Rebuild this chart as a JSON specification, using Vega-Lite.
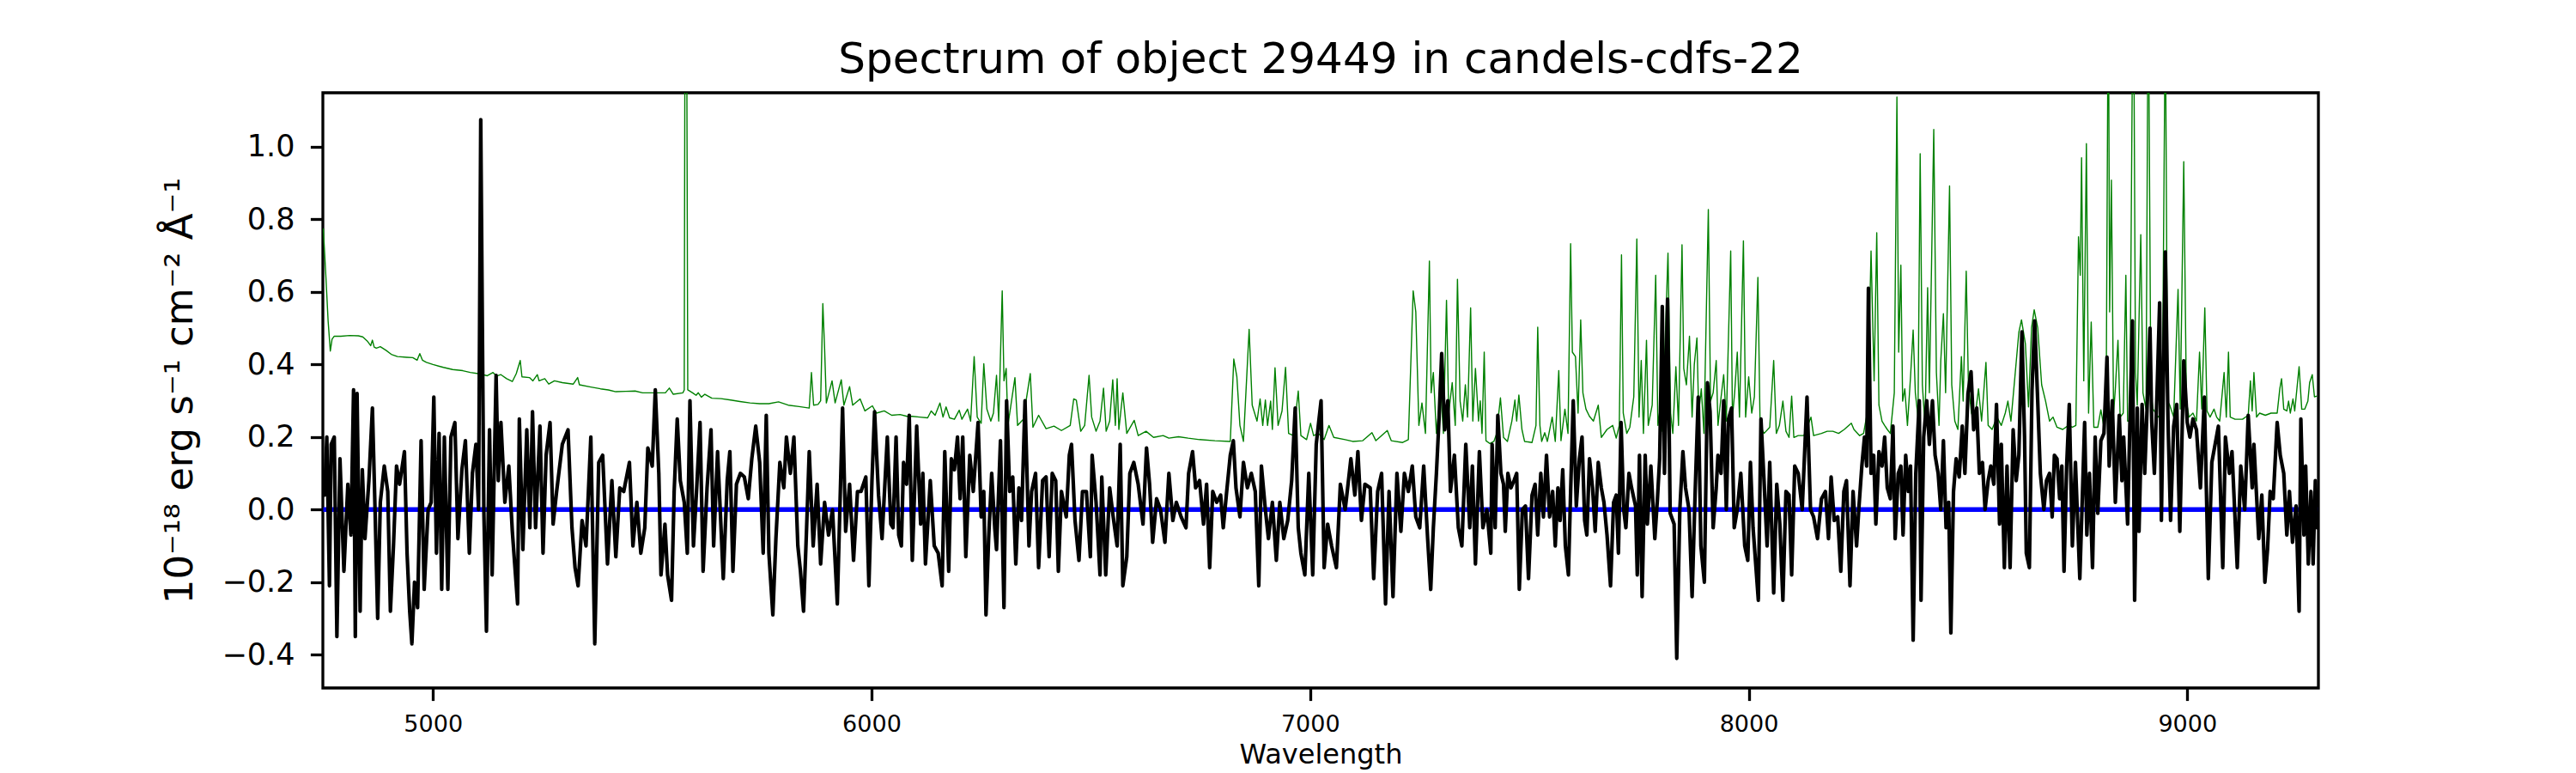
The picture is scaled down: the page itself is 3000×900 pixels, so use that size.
{
  "$schema": "https://vega.github.io/schema/vega-lite/v6.json",
  "width": 2324,
  "height": 693,
  "autosize": "none",
  "padding": {"left": 376, "top": 108, "right": 300, "bottom": 99},
  "background": "white",
  "title": {
    "text": "Spectrum of object 29449 in candels-cdfs-22",
    "font": "DejaVu Sans",
    "fontSize": 50,
    "fontWeight": "normal",
    "color": "#000000",
    "offset": 13
  },
  "config": {
    "font": "DejaVu Sans",
    "view": {"stroke": "#000000", "strokeWidth": 3.3},
    "axis": {
      "domain": false,
      "grid": false,
      "tickColor": "#000000",
      "tickWidth": 3.3,
      "tickSize": 14.6,
      "labelColor": "#000000",
      "titleColor": "#000000",
      "titleFontWeight": "normal",
      "labelFont": "DejaVu Sans",
      "titleFont": "DejaVu Sans",
      "labelFlush": false,
      "labelOverlap": false
    }
  },
  "datasets": {
    "flux": [
      {"w":4750,"f":0.04},{"w":4753,"f":0.04},{"w":4758,"f":0.20},{"w":4764,"f":-0.21},{"w":4768,"f":0.18},{"w":4775,"f":0.20},{"w":4781,"f":-0.35},{"w":4788,"f":0.14},{"w":4797,"f":-0.17},{"w":4806,"f":0.07},
      {"w":4813,"f":-0.07},{"w":4819,"f":0.33},{"w":4823,"f":-0.35},{"w":4827,"f":0.32},{"w":4834,"f":-0.28},{"w":4839,"f":0.11},{"w":4845,"f":-0.08},{"w":4854,"f":0.08},{"w":4862,"f":0.28},{"w":4868,"f":0.0},
      {"w":4874,"f":-0.30},{"w":4880,"f":0.02},{"w":4889,"f":0.12},{"w":4897,"f":0.05},{"w":4903,"f":-0.28},{"w":4910,"f":-0.10},{"w":4917,"f":0.12},{"w":4924,"f":0.07},{"w":4935,"f":0.16},{"w":4941,"f":-0.12},
      {"w":4947,"f":-0.28},{"w":4952,"f":-0.37},{"w":4958,"f":-0.20},{"w":4965,"f":-0.27},{"w":4973,"f":0.19},{"w":4980,"f":-0.22},{"w":4989,"f":0.0},{"w":4996,"f":0.02},{"w":5002,"f":0.31},{"w":5008,"f":-0.12},
      {"w":5014,"f":0.21},{"w":5020,"f":-0.22},{"w":5026,"f":0.20},{"w":5034,"f":-0.22},{"w":5041,"f":0.20},{"w":5050,"f":0.24},{"w":5057,"f":-0.08},{"w":5066,"f":0.11},{"w":5074,"f":0.19},{"w":5083,"f":-0.12},
      {"w":5090,"f":0.10},{"w":5098,"f":0.18},{"w":5104,"f":0.0},{"w":5109,"f":1.075},{"w":5116,"f":0.0},{"w":5122,"f":-0.335},{"w":5129,"f":0.22},{"w":5135,"f":-0.18},{"w":5144,"f":0.37},{"w":5149,"f":0.08},
      {"w":5155,"f":0.24},{"w":5164,"f":0.02},{"w":5173,"f":0.12},{"w":5181,"f":-0.06},{"w":5193,"f":-0.26},{"w":5197,"f":0.25},{"w":5205,"f":-0.11},{"w":5214,"f":0.22},{"w":5221,"f":-0.05},{"w":5227,"f":0.27},
      {"w":5234,"f":-0.05},{"w":5244,"f":0.23},{"w":5251,"f":-0.12},{"w":5258,"f":0.15},{"w":5267,"f":0.24},{"w":5274,"f":-0.04},{"w":5282,"f":0.05},{"w":5295,"f":0.18},{"w":5308,"f":0.22},{"w":5317,"f":-0.05},
      {"w":5324,"f":-0.16},{"w":5331,"f":-0.21},{"w":5340,"f":-0.03},{"w":5349,"f":-0.10},{"w":5360,"f":0.20},{"w":5369,"f":-0.37},{"w":5378,"f":0.13},{"w":5387,"f":0.15},{"w":5398,"f":-0.15},{"w":5408,"f":0.08},
      {"w":5417,"f":-0.13},{"w":5426,"f":0.06},{"w":5435,"f":0.05},{"w":5448,"f":0.13},{"w":5456,"f":-0.10},{"w":5465,"f":0.02},{"w":5474,"f":-0.12},{"w":5483,"f":-0.05},{"w":5490,"f":0.17},{"w":5500,"f":0.12},
      {"w":5507,"f":0.33},{"w":5515,"f":0.10},{"w":5520,"f":-0.18},{"w":5529,"f":-0.04},{"w":5535,"f":-0.18},{"w":5544,"f":-0.25},{"w":5550,"f":0.05},{"w":5557,"f":0.25},{"w":5564,"f":0.08},{"w":5573,"f":0.02},
      {"w":5580,"f":-0.12},{"w":5586,"f":0.30},{"w":5594,"f":-0.10},{"w":5601,"f":0.05},{"w":5609,"f":0.24},{"w":5616,"f":-0.17},{"w":5625,"f":0.06},{"w":5634,"f":0.22},{"w":5640,"f":-0.10},{"w":5649,"f":0.16},
      {"w":5655,"f":0.0},{"w":5662,"f":-0.19},{"w":5671,"f":0.08},{"w":5677,"f":0.16},{"w":5684,"f":-0.17},{"w":5692,"f":0.07},{"w":5701,"f":0.10},{"w":5710,"f":0.09},{"w":5719,"f":0.03},{"w":5727,"f":0.14},
      {"w":5736,"f":0.23},{"w":5745,"f":0.13},{"w":5753,"f":-0.12},{"w":5760,"f":0.26},{"w":5766,"f":-0.12},{"w":5775,"f":-0.29},{"w":5782,"f":-0.08},{"w":5791,"f":0.13},{"w":5800,"f":0.06},{"w":5806,"f":0.20},
      {"w":5815,"f":0.10},{"w":5823,"f":0.20},{"w":5832,"f":-0.10},{"w":5838,"f":-0.17},{"w":5845,"f":-0.28},{"w":5852,"f":-0.05},{"w":5858,"f":0.16},{"w":5867,"f":-0.10},{"w":5876,"f":0.07},{"w":5884,"f":-0.15},
      {"w":5893,"f":0.02},{"w":5902,"f":-0.07},{"w":5911,"f":0.0},{"w":5922,"f":-0.26},{"w":5934,"f":0.28},{"w":5941,"f":-0.06},{"w":5950,"f":0.07},{"w":5959,"f":-0.14},{"w":5968,"f":0.05},{"w":5976,"f":0.05},
      {"w":5987,"f":0.09},{"w":5994,"f":-0.21},{"w":6001,"f":0.08},{"w":6007,"f":0.27},{"w":6016,"f":0.04},{"w":6024,"f":-0.08},{"w":6036,"f":0.20},{"w":6044,"f":-0.04},
      {"w":6049,"f":-0.05},{"w":6056,"f":0.20},{"w":6062,"f":-0.07},{"w":6068,"f":-0.10},{"w":6073,"f":0.13},{"w":6080,"f":0.07},{"w":6086,"f":0.26},{"w":6093,"f":-0.14},{"w":6103,"f":0.23},{"w":6112,"f":-0.04},
      {"w":6117,"f":0.10},{"w":6123,"f":-0.15},{"w":6134,"f":0.08},{"w":6143,"f":-0.10},{"w":6152,"f":-0.12},{"w":6161,"f":-0.21},{"w":6167,"f":0.16},{"w":6176,"f":-0.17},{"w":6182,"f":0.14},{"w":6189,"f":0.11},
      {"w":6196,"f":0.20},{"w":6202,"f":0.03},{"w":6208,"f":0.20},{"w":6215,"f":-0.13},{"w":6224,"f":0.15},{"w":6232,"f":0.05},{"w":6243,"f":0.24},{"w":6250,"f":-0.02},{"w":6256,"f":0.05},{"w":6261,"f":-0.29},
      {"w":6267,"f":-0.08},{"w":6274,"f":0.10},{"w":6281,"f":-0.05},{"w":6285,"f":-0.11},{"w":6294,"f":0.19},{"w":6302,"f":-0.27},{"w":6308,"f":0.30},{"w":6315,"f":0.05},{"w":6322,"f":0.09},{"w":6329,"f":-0.15},
      {"w":6336,"f":0.06},{"w":6342,"f":-0.03},{"w":6350,"f":0.30},{"w":6359,"f":-0.10},{"w":6365,"f":0.05},{"w":6374,"f":0.10},{"w":6381,"f":-0.16},{"w":6390,"f":0.08},{"w":6398,"f":0.09},{"w":6405,"f":-0.13},
      {"w":6412,"f":0.10},{"w":6420,"f":0.08},{"w":6426,"f":-0.17},{"w":6433,"f":0.05},{"w":6444,"f":-0.02},{"w":6451,"f":0.15},{"w":6456,"f":0.18},{"w":6464,"f":-0.03},{"w":6473,"f":-0.14},{"w":6481,"f":0.05},
      {"w":6490,"f":0.05},{"w":6499,"f":-0.13},{"w":6503,"f":0.15},{"w":6512,"f":0.02},{"w":6521,"f":-0.18},{"w":6525,"f":0.09},{"w":6534,"f":-0.18},{"w":6543,"f":0.06},{"w":6551,"f":-0.02},{"w":6560,"f":-0.10},
      {"w":6567,"f":0.18},{"w":6573,"f":-0.21},{"w":6582,"f":-0.13},{"w":6589,"f":0.10},{"w":6598,"f":0.13},{"w":6608,"f":0.07},{"w":6619,"f":-0.04},{"w":6627,"f":0.17},{"w":6634,"f":0.07},{"w":6641,"f":-0.09},
      {"w":6650,"f":0.03},{"w":6659,"f":0.0},{"w":6669,"f":-0.09},{"w":6678,"f":0.10},{"w":6687,"f":-0.03},{"w":6695,"f":0.02},{"w":6706,"f":-0.02},{"w":6717,"f":-0.05},{"w":6723,"f":0.10},{"w":6732,"f":0.16},
      {"w":6739,"f":0.06},{"w":6748,"f":0.08},{"w":6757,"f":-0.04},{"w":6764,"f":0.07},{"w":6771,"f":-0.16},{"w":6778,"f":0.05},{"w":6787,"f":0.02},{"w":6796,"f":0.04},{"w":6802,"f":-0.05},{"w":6809,"f":0.04},
      {"w":6818,"f":0.15},{"w":6825,"f":0.19},{"w":6831,"f":0.06},{"w":6840,"f":-0.02},{"w":6848,"f":0.13},{"w":6857,"f":0.06},{"w":6866,"f":0.10},{"w":6875,"f":0.05},{"w":6883,"f":-0.21},{"w":6889,"f":0.12},
      {"w":6898,"f":0.0},{"w":6905,"f":-0.08},{"w":6914,"f":0.02},{"w":6923,"f":-0.14},{"w":6931,"f":0.02},{"w":6940,"f":-0.08},{"w":6949,"f":-0.03},{"w":6958,"f":0.08},{"w":6966,"f":0.28},{"w":6973,"f":-0.05},
      {"w":6979,"f":-0.12},{"w":6988,"f":-0.18},{"w":6997,"f":0.10},{"w":7006,"f":-0.18},{"w":7014,"f":0.18},{"w":7025,"f":0.30},{"w":7032,"f":-0.16},{"w":7040,"f":-0.04},{"w":7049,"f":-0.10},{"w":7060,"f":-0.16},
      {"w":7069,"f":0.07},{"w":7080,"f":0.0},{"w":7093,"f":0.14},{"w":7102,"f":0.04},{"w":7109,"f":0.16},{"w":7117,"f":-0.03},{"w":7125,"f":0.07},{"w":7137,"f":0.06},{"w":7145,"f":-0.19},{"w":7154,"f":0.05},
      {"w":7163,"f":0.10},{"w":7172,"f":-0.26},{"w":7180,"f":0.05},{"w":7189,"f":-0.24},{"w":7198,"f":0.10},{"w":7207,"f":-0.06},{"w":7215,"f":0.10},{"w":7224,"f":0.05},{"w":7233,"f":0.12},{"w":7241,"f":-0.02},
      {"w":7250,"f":-0.05},{"w":7259,"f":0.12},{"w":7268,"f":-0.08},{"w":7275,"f":-0.22},{"w":7281,"f":-0.05},{"w":7288,"f":0.10},{"w":7294,"f":0.25},{"w":7300,"f":0.43},{"w":7307,"f":0.22},{"w":7314,"f":0.30},
      {"w":7320,"f":0.05},{"w":7329,"f":0.15},{"w":7338,"f":-0.05},{"w":7346,"f":-0.10},{"w":7355,"f":0.18},{"w":7364,"f":-0.05},{"w":7370,"f":0.12},{"w":7377,"f":-0.15},{"w":7386,"f":0.16},{"w":7394,"f":-0.05},
      {"w":7403,"f":0.0},{"w":7412,"f":-0.12},
      {"w":7415,"f":0.18},{"w":7422,"f":-0.05},{"w":7428,"f":0.26},{"w":7435,"f":0.10},{"w":7441,"f":0.07},{"w":7445,"f":-0.06},{"w":7451,"f":0.10},{"w":7458,"f":0.06},{"w":7465,"f":0.08},{"w":7471,"f":0.10},
      {"w":7477,"f":-0.22},{"w":7484,"f":0.0},{"w":7491,"f":0.01},{"w":7498,"f":-0.19},{"w":7506,"f":0.04},{"w":7513,"f":0.07},{"w":7519,"f":-0.07},{"w":7526,"f":0.10},{"w":7532,"f":-0.02},{"w":7539,"f":0.15},
      {"w":7546,"f":-0.02},{"w":7553,"f":0.05},{"w":7559,"f":-0.10},{"w":7565,"f":0.06},{"w":7570,"f":-0.03},{"w":7576,"f":0.11},{"w":7582,"f":-0.10},{"w":7589,"f":-0.18},{"w":7594,"f":0.05},{"w":7600,"f":0.30},
      {"w":7607,"f":0.01},{"w":7614,"f":0.14},{"w":7620,"f":0.20},{"w":7626,"f":-0.03},{"w":7631,"f":-0.07},{"w":7637,"f":0.14},{"w":7644,"f":0.06},{"w":7650,"f":-0.06},{"w":7657,"f":0.13},{"w":7664,"f":0.06},
      {"w":7670,"f":0.02},{"w":7677,"f":-0.07},{"w":7685,"f":-0.21},{"w":7692,"f":0.02},{"w":7698,"f":0.04},{"w":7703,"f":-0.12},{"w":7709,"f":0.24},{"w":7715,"f":0.0},{"w":7720,"f":-0.05},{"w":7727,"f":0.10},
      {"w":7733,"f":0.06},{"w":7742,"f":0.01},{"w":7746,"f":-0.18},{"w":7751,"f":0.15},{"w":7757,"f":-0.24},{"w":7764,"f":0.15},{"w":7769,"f":-0.04},{"w":7777,"f":0.12},{"w":7786,"f":-0.08},{"w":7792,"f":0.03},
      {"w":7797,"f":0.14},{"w":7803,"f":0.56},{"w":7808,"f":0.10},{"w":7815,"f":0.58},{"w":7821,"f":-0.01},{"w":7830,"f":-0.04},{"w":7836,"f":-0.41},{"w":7843,"f":0.0},{"w":7850,"f":0.16},{"w":7856,"f":0.06},
      {"w":7864,"f":0.0},{"w":7871,"f":-0.24},{"w":7878,"f":0.05},{"w":7885,"f":0.31},{"w":7891,"f":-0.10},{"w":7899,"f":-0.20},{"w":7906,"f":0.35},{"w":7912,"f":0.27},{"w":7919,"f":-0.05},{"w":7926,"f":0.06},
      {"w":7930,"f":0.15},{"w":7937,"f":0.10},{"w":7943,"f":0.30},{"w":7949,"f":0.0},{"w":7954,"f":0.25},{"w":7961,"f":0.28},{"w":7967,"f":-0.05},{"w":7974,"f":0.0},{"w":7982,"f":0.10},{"w":7991,"f":-0.10},
      {"w":7998,"f":-0.14},{"w":8004,"f":0.13},{"w":8010,"f":-0.05},{"w":8022,"f":-0.25},{"w":8028,"f":0.25},{"w":8035,"f":0.08},{"w":8042,"f":-0.10},{"w":8048,"f":0.13},{"w":8057,"f":-0.23},{"w":8064,"f":0.07},
      {"w":8071,"f":-0.04},{"w":8078,"f":-0.25},{"w":8085,"f":0.05},{"w":8092,"f":0.04},{"w":8098,"f":-0.18},{"w":8105,"f":0.12},{"w":8113,"f":0.10},{"w":8122,"f":0.0},{"w":8133,"f":0.31},{"w":8141,"f":0.0},
      {"w":8148,"f":-0.02},{"w":8157,"f":-0.08},{"w":8166,"f":0.03},{"w":8175,"f":0.05},{"w":8182,"f":-0.08},{"w":8188,"f":0.09},{"w":8195,"f":-0.03},{"w":8203,"f":-0.02},{"w":8210,"f":-0.17},{"w":8217,"f":0.05},
      {"w":8223,"f":0.08},{"w":8231,"f":-0.21},{"w":8238,"f":0.05},{"w":8246,"f":-0.10},{"w":8251,"f":0.0},{"w":8258,"f":0.12},{"w":8264,"f":0.20},{"w":8269,"f":0.12},{"w":8273,"f":0.61},{"w":8279,"f":0.10},
      {"w":8285,"f":0.15},{"w":8290,"f":-0.04},{"w":8297,"f":0.16},{"w":8304,"f":0.12},{"w":8310,"f":0.20},{"w":8316,"f":0.06},{"w":8323,"f":0.03},{"w":8329,"f":0.23},{"w":8334,"f":-0.08},{"w":8341,"f":0.10},
      {"w":8347,"f":0.12},{"w":8352,"f":-0.07},{"w":8358,"f":0.15},{"w":8364,"f":0.05},{"w":8369,"f":0.12},{"w":8375,"f":-0.36},{"w":8381,"f":0.10},{"w":8389,"f":0.30},{"w":8393,"f":-0.25},{"w":8399,"f":0.20},
      {"w":8406,"f":0.30},{"w":8412,"f":0.18},{"w":8419,"f":0.30},{"w":8425,"f":0.15},{"w":8432,"f":0.10},{"w":8438,"f":0.0},{"w":8444,"f":0.19},{"w":8450,"f":-0.05},{"w":8456,"f":0.02},{"w":8461,"f":-0.34},
      {"w":8467,"f":0.05},{"w":8473,"f":0.14},{"w":8480,"f":0.09},{"w":8487,"f":0.23},{"w":8493,"f":0.10},{"w":8500,"f":0.32},{"w":8507,"f":0.38},{"w":8513,"f":0.22},{"w":8520,"f":0.28},{"w":8526,"f":0.10},
      {"w":8533,"f":0.13},{"w":8539,"f":0.0},{"w":8546,"f":0.08},{"w":8552,"f":0.12},{"w":8559,"f":0.07},{"w":8565,"f":0.29},{"w":8572,"f":-0.04},{"w":8576,"f":0.18},{"w":8583,"f":-0.16},{"w":8589,"f":0.12},
      {"w":8596,"f":-0.16},{"w":8603,"f":0.22},{"w":8610,"f":0.08},{"w":8616,"f":0.15},{"w":8623,"f":0.49},{"w":8629,"f":0.20},{"w":8633,"f":-0.12},{"w":8640,"f":-0.16},{"w":8646,"f":0.33},{"w":8652,"f":0.52},
      {"w":8659,"f":0.30},{"w":8665,"f":0.10},{"w":8673,"f":0.0},{"w":8679,"f":0.08},{"w":8686,"f":0.10},{"w":8692,"f":-0.02},{"w":8697,"f":0.15},{"w":8703,"f":0.14},{"w":8709,"f":0.03},{"w":8714,"f":0.12},
      {"w":8719,"f":-0.17},{"w":8725,"f":0.12},{"w":8731,"f":0.29},{"w":8738,"f":-0.10},{"w":8745,"f":0.13},
      {"w":8755,"f":-0.19},{"w":8766,"f":0.24},{"w":8771,"f":-0.07},{"w":8777,"f":0.10},{"w":8784,"f":-0.16},{"w":8790,"f":0.20},{"w":8796,"f":-0.01},{"w":8803,"f":0.19},{"w":8810,"f":0.21},{"w":8817,"f":0.42},
      {"w":8822,"f":0.12},{"w":8829,"f":0.30},{"w":8836,"f":0.02},{"w":8845,"f":0.26},{"w":8851,"f":0.08},{"w":8855,"f":0.20},{"w":8864,"f":-0.04},{"w":8869,"f":0.23},{"w":8875,"f":0.52},{"w":8880,"f":-0.25},
      {"w":8886,"f":0.28},{"w":8890,"f":-0.06},{"w":8897,"f":0.29},{"w":8903,"f":0.10},{"w":8915,"f":0.50},{"w":8919,"f":0.24},{"w":8925,"f":0.10},{"w":8931,"f":0.32},{"w":8937,"f":0.57},{"w":8941,"f":-0.03},
      {"w":8950,"f":0.71},{"w":8956,"f":0.25},{"w":8962,"f":-0.03},{"w":8969,"f":0.23},{"w":8976,"f":0.29},{"w":8983,"f":-0.06},{"w":8992,"f":0.41},{"w":9000,"f":0.24},{"w":9006,"f":0.20},{"w":9013,"f":0.25},
      {"w":9021,"f":0.22},{"w":9030,"f":0.06},{"w":9039,"f":0.31},{"w":9048,"f":-0.19},{"w":9056,"f":0.13},{"w":9071,"f":0.23},{"w":9081,"f":-0.16},{"w":9087,"f":0.20},{"w":9096,"f":0.10},{"w":9102,"f":0.16},
      {"w":9114,"f":-0.16},{"w":9122,"f":0.12},{"w":9131,"f":0.0},{"w":9139,"f":0.26},{"w":9148,"f":0.06},{"w":9152,"f":0.18},{"w":9163,"f":-0.08},{"w":9170,"f":0.04},{"w":9177,"f":-0.20},{"w":9183,"f":-0.11},
      {"w":9189,"f":0.05},{"w":9196,"f":0.03},{"w":9205,"f":0.24},{"w":9212,"f":0.15},{"w":9220,"f":0.10},{"w":9227,"f":-0.07},{"w":9233,"f":0.05},{"w":9240,"f":-0.09},{"w":9248,"f":0.01},{"w":9255,"f":-0.28},
      {"w":9259,"f":0.25},{"w":9266,"f":-0.07},{"w":9270,"f":0.12},{"w":9276,"f":-0.15},{"w":9282,"f":0.05},{"w":9287,"f":-0.15},{"w":9292,"f":0.08},{"w":9296,"f":-0.05}
    ],
    "sky": [
      {"w":4750,"f":0.775},{"w":4756,"f":0.64},{"w":4761,"f":0.52},{"w":4766,"f":0.437},{"w":4770,"f":0.47},{"w":4775,"f":0.478},{"w":4790,"f":0.478},{"w":4810,"f":0.48},{"w":4830,"f":0.479},{"w":4840,"f":0.476},
      {"w":4850,"f":0.465},{"w":4858,"f":0.452},{"w":4862,"f":0.467},{"w":4866,"f":0.448},{"w":4871,"f":0.445},{"w":4880,"f":0.449},{"w":4893,"f":0.439},{"w":4905,"f":0.428},{"w":4919,"f":0.422},{"w":4940,"f":0.42},
      {"w":4954,"f":0.419},{"w":4964,"f":0.412},{"w":4970,"f":0.43},{"w":4976,"f":0.412},{"w":4985,"f":0.406},{"w":5000,"f":0.40},{"w":5024,"f":0.392},{"w":5045,"f":0.386},{"w":5068,"f":0.383},{"w":5085,"f":0.378},
      {"w":5103,"f":0.375},{"w":5124,"f":0.369},{"w":5137,"f":0.378},{"w":5145,"f":0.368},{"w":5155,"f":0.372},{"w":5168,"f":0.361},{"w":5181,"f":0.353},{"w":5190,"f":0.375},{"w":5199,"f":0.411},{"w":5203,"f":0.366},
      {"w":5220,"f":0.364},{"w":5228,"f":0.355},{"w":5238,"f":0.372},{"w":5242,"f":0.355},{"w":5255,"f":0.361},{"w":5264,"f":0.346},{"w":5277,"f":0.355},{"w":5295,"f":0.35},{"w":5320,"f":0.346},{"w":5330,"f":0.364},
      {"w":5334,"f":0.344},{"w":5360,"f":0.338},{"w":5382,"f":0.333},{"w":5400,"f":0.33},{"w":5417,"f":0.325},{"w":5440,"f":0.326},{"w":5461,"f":0.327},{"w":5478,"f":0.322},{"w":5505,"f":0.322},{"w":5530,"f":0.322},
      {"w":5539,"f":0.335},{"w":5548,"f":0.318},{"w":5570,"f":0.322},{"w":5573,"f":0.33},{"w":5575,"f":1.6},{"w":5578,"f":1.6},{"w":5581,"f":0.33},{"w":5592,"f":0.322},{"w":5600,"f":0.315},{"w":5605,"f":0.322},
      {"w":5612,"f":0.31},{"w":5620,"f":0.318},{"w":5636,"f":0.307},{"w":5657,"f":0.306},{"w":5679,"f":0.302},{"w":5700,"f":0.298},{"w":5723,"f":0.294},{"w":5745,"f":0.292},{"w":5766,"f":0.292},{"w":5788,"f":0.297},
      {"w":5810,"f":0.288},{"w":5835,"f":0.284},{"w":5858,"f":0.28},{"w":5863,"f":0.378},{"w":5868,"f":0.288},{"w":5878,"f":0.29},{"w":5884,"f":0.30},{"w":5889,"f":0.568},{"w":5893,"f":0.445},{"w":5897,"f":0.294},
      {"w":5910,"f":0.355},{"w":5917,"f":0.294},{"w":5931,"f":0.358},{"w":5937,"f":0.288},{"w":5950,"f":0.339},{"w":5957,"f":0.288},{"w":5974,"f":0.305},{"w":5985,"f":0.272},{"w":6002,"f":0.286},{"w":6011,"f":0.266},
      {"w":6029,"f":0.272},{"w":6046,"f":0.26},{"w":6065,"f":0.262},{"w":6081,"f":0.257},{"w":6093,"f":0.257},{"w":6110,"f":0.255},{"w":6128,"f":0.253},{"w":6136,"f":0.272},{"w":6145,"f":0.26},{"w":6156,"f":0.294},
      {"w":6163,"f":0.255},{"w":6170,"f":0.283},{"w":6178,"f":0.253},{"w":6189,"f":0.249},{"w":6200,"f":0.274},{"w":6206,"f":0.249},{"w":6219,"f":0.277},{"w":6226,"f":0.244},{"w":6234,"f":0.422},{"w":6241,"f":0.255},
      {"w":6250,"f":0.238},{"w":6256,"f":0.402},{"w":6263,"f":0.277},{"w":6272,"f":0.244},{"w":6278,"f":0.266},{"w":6285,"f":0.37},{"w":6290,"f":0.244},{"w":6298,"f":0.603},{"w":6302,"f":0.355},{"w":6307,"f":0.389},
      {"w":6311,"f":0.232},{"w":6327,"f":0.364},{"w":6333,"f":0.232},{"w":6346,"f":0.249},{"w":6362,"f":0.375},{"w":6368,"f":0.227},{"w":6381,"f":0.26},{"w":6398,"f":0.223},{"w":6416,"f":0.23},{"w":6433,"f":0.218},
      {"w":6453,"f":0.232},{"w":6461,"f":0.305},{"w":6467,"f":0.302},{"w":6477,"f":0.216},{"w":6486,"f":0.232},{"w":6496,"f":0.37},{"w":6502,"f":0.255},{"w":6512,"f":0.216},{"w":6521,"f":0.244},{"w":6529,"f":0.335},
      {"w":6535,"f":0.216},{"w":6543,"f":0.244},{"w":6550,"f":0.358},{"w":6556,"f":0.232},{"w":6560,"f":0.361},{"w":6564,"f":0.221},{"w":6573,"f":0.322},{"w":6582,"f":0.21},{"w":6599,"f":0.246},{"w":6608,"f":0.204},
      {"w":6626,"f":0.216},{"w":6643,"f":0.199},{"w":6665,"f":0.204},{"w":6678,"f":0.197},{"w":6700,"f":0.201},{"w":6722,"f":0.197},{"w":6748,"f":0.193},{"w":6783,"f":0.19},{"w":6818,"f":0.188},{"w":6826,"f":0.415},
      {"w":6833,"f":0.366},{"w":6840,"f":0.232},{"w":6848,"f":0.188},{"w":6861,"f":0.497},{"w":6868,"f":0.288},{"w":6879,"f":0.244},{"w":6886,"f":0.305},{"w":6892,"f":0.232},{"w":6898,"f":0.302},{"w":6903,"f":0.232},
      {"w":6910,"f":0.299},{"w":6914,"f":0.221},{"w":6920,"f":0.391},{"w":6927,"f":0.232},{"w":6936,"f":0.272},{"w":6944,"f":0.392},{"w":6951,"f":0.21},{"w":6962,"f":0.204},{"w":6973,"f":0.327},{"w":6979,"f":0.204},
      {"w":6992,"f":0.193},{"w":7001,"f":0.238},{"w":7008,"f":0.204},{"w":7019,"f":0.21},{"w":7032,"f":0.193},{"w":7043,"f":0.232},{"w":7054,"f":0.199},{"w":7080,"f":0.193},{"w":7097,"f":0.188},{"w":7120,"f":0.19},
      {"w":7141,"f":0.212},{"w":7150,"f":0.19},{"w":7176,"f":0.218},{"w":7185,"f":0.19},{"w":7211,"f":0.185},{"w":7224,"f":0.193},{"w":7235,"f":0.603},{"w":7241,"f":0.545},{"w":7248,"f":0.232},{"w":7255,"f":0.294},
      {"w":7263,"f":0.21},{"w":7272,"f":0.685},{"w":7276,"f":0.322},{"w":7281,"f":0.378},{"w":7288,"f":0.21},{"w":7298,"f":0.327},{"w":7304,"f":0.21},{"w":7311,"f":0.577},{"w":7316,"f":0.266},{"w":7324,"f":0.35},
      {"w":7331,"f":0.232},{"w":7336,"f":0.635},{"w":7342,"f":0.299},{"w":7348,"f":0.244},{"w":7354,"f":0.344},{"w":7359,"f":0.255},{"w":7366,"f":0.556},{"w":7371,"f":0.244},{"w":7377,"f":0.389},{"w":7384,"f":0.244},
      {"w":7388,"f":0.30},{"w":7392,"f":0.21},{"w":7397,"f":0.434},{"w":7401,"f":0.19},{"w":7410,"f":0.182},{"w":7419,"f":0.188},{"w":7425,"f":0.208},{"w":7434,"f":0.308},{"w":7441,"f":0.199},{"w":7450,"f":0.188},
      {"w":7460,"f":0.244},{"w":7467,"f":0.302},{"w":7471,"f":0.244},{"w":7476,"f":0.316},{"w":7483,"f":0.221},{"w":7489,"f":0.188},{"w":7506,"f":0.185},{"w":7515,"f":0.232},{"w":7519,"f":0.503},{"w":7524,"f":0.232},
      {"w":7528,"f":0.188},{"w":7535,"f":0.212},{"w":7541,"f":0.188},{"w":7552,"f":0.255},{"w":7559,"f":0.188},{"w":7567,"f":0.383},{"w":7572,"f":0.19},{"w":7581,"f":0.277},{"w":7588,"f":0.21},{"w":7594,"f":0.733},
      {"w":7598,"f":0.434},{"w":7605,"f":0.422},{"w":7611,"f":0.266},{"w":7617,"f":0.523},{"w":7622,"f":0.322},{"w":7629,"f":0.277},{"w":7637,"f":0.257},{"w":7646,"f":0.244},{"w":7657,"f":0.288},{"w":7664,"f":0.199},
      {"w":7677,"f":0.221},{"w":7690,"f":0.232},{"w":7698,"f":0.197},{"w":7705,"f":0.232},{"w":7710,"f":0.702},{"w":7714,"f":0.266},{"w":7722,"f":0.21},{"w":7729,"f":0.227},{"w":7738,"f":0.311},{"w":7745,"f":0.746},
      {"w":7750,"f":0.255},{"w":7755,"f":0.411},{"w":7760,"f":0.21},{"w":7767,"f":0.467},{"w":7771,"f":0.232},{"w":7780,"f":0.288},{"w":7788,"f":0.646},{"w":7793,"f":0.232},{"w":7799,"f":0.288},{"w":7803,"f":0.216},
      {"w":7816,"f":0.707},{"w":7822,"f":0.266},{"w":7827,"f":0.21},{"w":7834,"f":0.394},{"w":7840,"f":0.232},{"w":7848,"f":0.73},{"w":7852,"f":0.389},{"w":7858,"f":0.344},{"w":7865,"f":0.478},{"w":7871,"f":0.255},
      {"w":7876,"f":0.40},{"w":7882,"f":0.473},{"w":7886,"f":0.266},{"w":7892,"f":0.333},{"w":7898,"f":0.21},{"w":7908,"f":0.827},{"w":7913,"f":0.299},{"w":7919,"f":0.322},{"w":7926,"f":0.411},{"w":7930,"f":0.232},
      {"w":7936,"f":0.299},{"w":7943,"f":0.372},{"w":7949,"f":0.244},{"w":7959,"f":0.713},{"w":7963,"f":0.255},{"w":7968,"f":0.322},{"w":7974,"f":0.434},{"w":7979,"f":0.255},{"w":7988,"f":0.741},{"w":7993,"f":0.255},
      {"w":8000,"f":0.366},{"w":8007,"f":0.266},{"w":8013,"f":0.311},{"w":8021,"f":0.64},{"w":8026,"f":0.232},{"w":8035,"f":0.21},{"w":8048,"f":0.227},{"w":8057,"f":0.411},{"w":8063,"f":0.21},{"w":8070,"f":0.232},
      {"w":8078,"f":0.299},{"w":8085,"f":0.216},{"w":8092,"f":0.199},{"w":8098,"f":0.313},{"w":8103,"f":0.199},{"w":8113,"f":0.204},{"w":8126,"f":0.204},{"w":8135,"f":0.232},{"w":8142,"f":0.255},{"w":8148,"f":0.204},
      {"w":8166,"f":0.21},{"w":8179,"f":0.216},{"w":8192,"f":0.216},{"w":8205,"f":0.21},{"w":8218,"f":0.221},{"w":8234,"f":0.238},{"w":8240,"f":0.221},{"w":8253,"f":0.204},{"w":8262,"f":0.21},{"w":8271,"f":0.272},
      {"w":8279,"f":0.713},{"w":8286,"f":0.355},{"w":8292,"f":0.763},{"w":8297,"f":0.288},{"w":8304,"f":0.244},{"w":8310,"f":0.232},{"w":8316,"f":0.221},{"w":8323,"f":0.21},{"w":8332,"f":0.322},{"w":8338,"f":1.137},
      {"w":8342,"f":0.434},{"w":8347,"f":0.674},{"w":8351,"f":0.299},{"w":8356,"f":0.333},{"w":8362,"f":0.232},{"w":8369,"f":0.366},{"w":8375,"f":0.495},{"w":8380,"f":0.322},{"w":8386,"f":0.255},{"w":8391,"f":0.981},
      {"w":8396,"f":0.344},{"w":8402,"f":0.232},{"w":8408,"f":0.612},{"w":8412,"f":0.322},{"w":8417,"f":0.679},{"w":8422,"f":1.048},{"w":8428,"f":0.378},{"w":8434,"f":0.232},{"w":8438,"f":0.411},{"w":8444,"f":0.54},
      {"w":8449,"f":0.322},{"w":8458,"f":0.892},{"w":8463,"f":0.344},{"w":8470,"f":0.244},{"w":8477,"f":0.221},{"w":8485,"f":0.422},{"w":8489,"f":0.299},{"w":8496,"f":0.657},{"w":8501,"f":0.344},{"w":8508,"f":0.266},
      {"w":8515,"f":0.244},{"w":8524,"f":0.333},{"w":8531,"f":0.244},{"w":8541,"f":0.406},{"w":8546,"f":0.232},{"w":8555,"f":0.221},{"w":8566,"f":0.255},{"w":8576,"f":0.232},{"w":8585,"f":0.266},{"w":8591,"f":0.299},
      {"w":8598,"f":0.244},{"w":8607,"f":0.366},{"w":8616,"f":0.489},{"w":8622,"f":0.523},{"w":8631,"f":0.456},{"w":8638,"f":0.283},{"w":8645,"f":0.501},{"w":8651,"f":0.551},{"w":8659,"f":0.501},{"w":8668,"f":0.344},
      {"w":8677,"f":0.299},{"w":8686,"f":0.244},{"w":8694,"f":0.255},{"w":8703,"f":0.227},{"w":8716,"f":0.221},{"w":8729,"f":0.232},{"w":8738,"f":0.227},{"w":8746,"f":0.232},{"w":8752,"f":0.752},{"w":8756,"f":0.646},
      {"w":8759,"f":0.97},{"w":8764,"f":0.355},{"w":8770,"f":1.009},{"w":8775,"f":0.266},{"w":8781,"f":0.517},{"w":8787,"f":0.227},{"w":8796,"f":0.227},{"w":8803,"f":0.275},{"w":8810,"f":0.227},{"w":8815,"f":0.266},
      {"w":8820,"f":1.5},{"w":8823,"f":0.545},{"w":8827,"f":0.908},{"w":8832,"f":0.266},{"w":8836,"f":0.333},{"w":8842,"f":0.467},{"w":8847,"f":0.255},{"w":8854,"f":0.266},{"w":8860,"f":0.646},{"w":8864,"f":0.244},
      {"w":8869,"f":0.244},{"w":8877,"f":1.6},{"w":8882,"f":0.378},{"w":8886,"f":0.288},{"w":8894,"f":0.758},{"w":8899,"f":0.322},{"w":8906,"f":0.277},{"w":8911,"f":1.5},{"w":8917,"f":0.322},{"w":8922,"f":0.277},
      {"w":8934,"f":0.255},{"w":8943,"f":0.266},{"w":8950,"f":1.4},{"w":8955,"f":0.299},{"w":8960,"f":0.288},{"w":8969,"f":0.255},{"w":8979,"f":0.607},{"w":8984,"f":0.277},{"w":8992,"f":0.959},{"w":8998,"f":0.299},
      {"w":9004,"f":0.255},{"w":9013,"f":0.266},{"w":9021,"f":0.244},{"w":9028,"f":0.434},{"w":9033,"f":0.277},{"w":9040,"f":0.556},{"w":9045,"f":0.272},{"w":9052,"f":0.255},{"w":9061,"f":0.277},{"w":9067,"f":0.255},
      {"w":9074,"f":0.244},{"w":9084,"f":0.378},{"w":9089,"f":0.255},{"w":9094,"f":0.434},{"w":9098,"f":0.255},{"w":9109,"f":0.249},{"w":9126,"f":0.249},{"w":9139,"f":0.26},{"w":9144,"f":0.355},{"w":9148,"f":0.272},
      {"w":9152,"f":0.378},{"w":9158,"f":0.255},{"w":9165,"f":0.266},{"w":9178,"f":0.26},{"w":9191,"f":0.266},{"w":9205,"f":0.266},{"w":9211,"f":0.333},{"w":9215,"f":0.361},{"w":9220,"f":0.277},{"w":9227,"f":0.272},
      {"w":9231,"f":0.299},{"w":9235,"f":0.266},{"w":9241,"f":0.305},{"w":9245,"f":0.272},{"w":9255,"f":0.394},{"w":9261,"f":0.277},{"w":9268,"f":0.277},{"w":9275,"f":0.299},{"w":9279,"f":0.35},{"w":9285,"f":0.372},
      {"w":9290,"f":0.311},{"w":9296,"f":0.313}
    ],
    "zero": [
      {"w":4750,"f":0.0},{"w":9298,"f":0.0}
    ]
  },
  "encoding": {
    "x": {
      "field": "w",
      "type": "quantitative",
      "scale": {"domain": [4749, 9299], "nice": false, "zero": false},
      "axis": {
        "title": "Wavelength",
        "values": [5000, 6000, 7000, 8000, 9000],
        "format": "d",
        "labelFontSize": 27,
        "labelPadding": 14.8,
        "titleFontSize": 32,
        "titleY": 87,
        "titleBaseline": "alphabetic"
      }
    },
    "y": {
      "field": "f",
      "type": "quantitative",
      "scale": {"domain": [-0.4916, 1.149], "nice": false, "zero": false},
      "axis": {
        "title": "10⁻¹⁸ erg s⁻¹ cm⁻² Å⁻¹",
        "values": [-0.4, -0.2, 0, 0.2, 0.4, 0.6, 0.8, 1.0],
        "format": ".1f",
        "labelFontSize": 35,
        "labelPadding": 18.4,
        "titleFontSize": 45,
        "titleAngle": 270,
        "titleX": -153,
        "titleY": 346.5,
        "titleAlign": "center",
        "titleBaseline": "alphabetic"
      }
    }
  },
  "layer": [
    {
      "data": {"name": "sky"},
      "mark": {"type": "line", "color": "#008000", "strokeWidth": 1.4, "clip": true, "strokeJoin": "round"}
    },
    {
      "data": {"name": "zero"},
      "mark": {"type": "line", "color": "#0000ff", "strokeWidth": 5.5, "clip": true}
    },
    {
      "data": {"name": "flux"},
      "mark": {"type": "line", "color": "#000000", "strokeWidth": 4.2, "clip": true, "strokeJoin": "round", "strokeCap": "round"}
    }
  ]
}
